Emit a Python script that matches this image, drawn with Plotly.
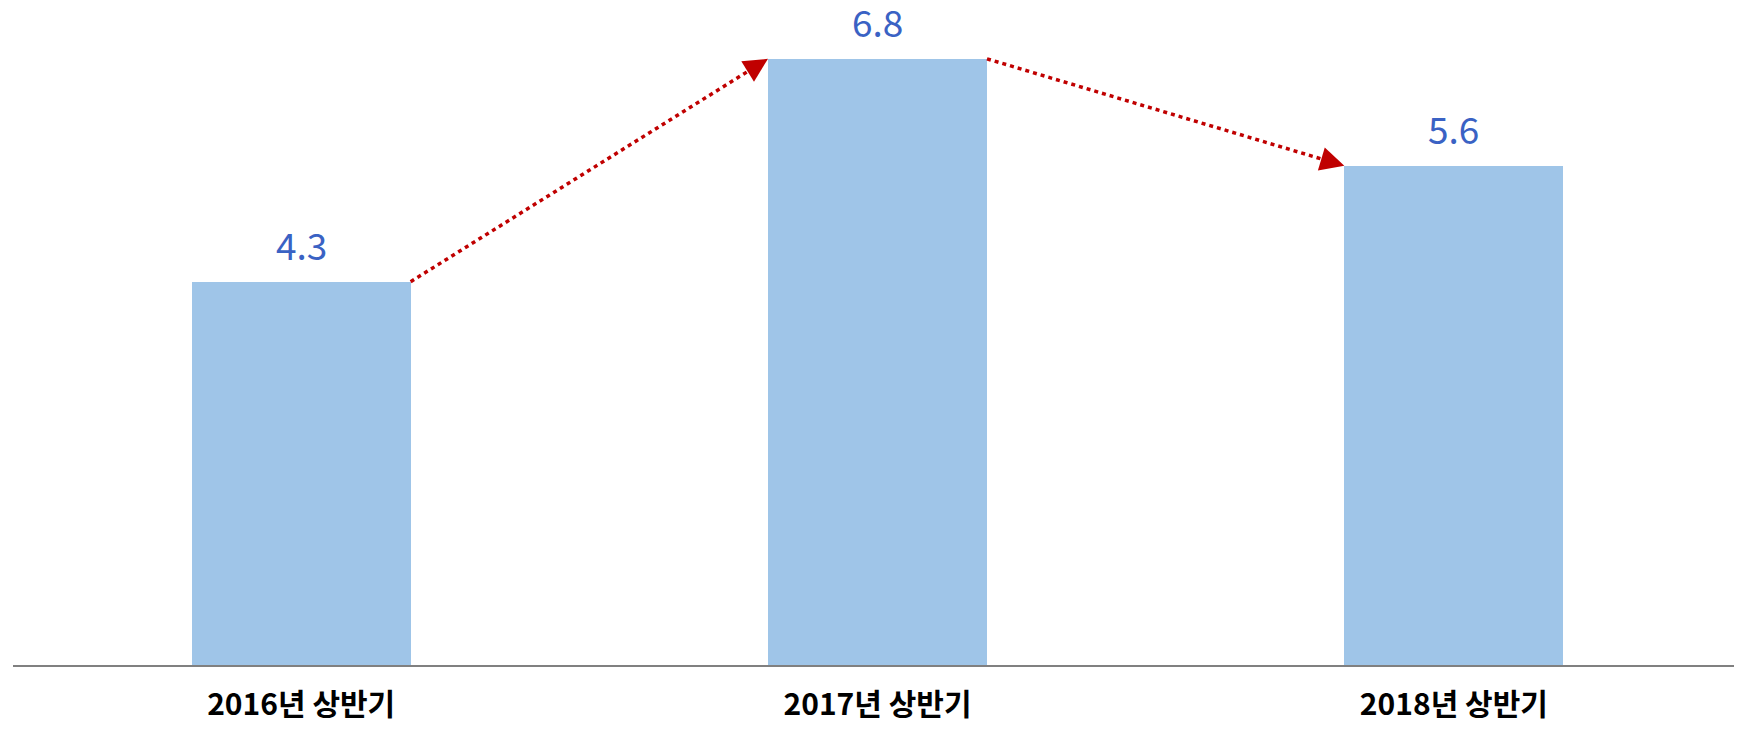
import plotly.graph_objects as go

categories = ["2016년 상반기", "2017년 상반기", "2018년 상반기"]
values = [4.3, 6.8, 5.6]
value_labels = ["4.3", "6.8", "5.6"]

BAR_W = 0.38
HALF = BAR_W / 2
FONT = "Noto Sans CJK KR, Noto Sans, sans-serif"
RED = "#c00000"

fig = go.Figure()
xs = list(range(len(categories)))
fig.add_trace(go.Bar(
    x=xs, y=values, width=BAR_W, marker=dict(color="#9fc5e8", line=dict(width=0)),
    cliponaxis=False, hoverinfo="skip",
))

for xi, v, lab in zip(xs, values, value_labels):
    fig.add_annotation(
        x=xi, y=v, xref="x", yref="y", text=lab, showarrow=False,
        yanchor="bottom", yshift=9,
        font=dict(family=FONT, size=37, color="#3a62c4"),
    )

for i in range(len(values) - 1):
    x0, y0 = xs[i] + HALF, values[i]
    x1, y1 = xs[i + 1] - HALF, values[i + 1]
    fig.add_trace(go.Scatter(
        x=[x0, x1 - (x1 - x0) * 0.03], y=[y0, y1 - (y1 - y0) * 0.03], mode="lines",
        line=dict(color=RED, width=3.5, dash="4px,4px"),
        hoverinfo="skip", showlegend=False, cliponaxis=False,
    ))
    fig.add_annotation(
        x=x1, y=y1, ax=x1 - (x1 - x0) * 0.05, ay=y1 - (y1 - y0) * 0.05,
        xref="x", yref="y", axref="x", ayref="y",
        text="", showarrow=True, arrowhead=2, arrowsize=1.6, arrowwidth=3,
        arrowcolor=RED, standoff=0,
    )

fig.update_layout(
    width=1734, height=713,
    margin=dict(l=5, r=0, t=0, b=56, autoexpand=False),
    plot_bgcolor="white", paper_bgcolor="white",
    showlegend=False, bargap=0,
    font=dict(family=FONT),
    xaxis=dict(
        tickmode="array", tickvals=xs, ticktext=categories,
        range=[-0.5, 2.5], showgrid=False, zeroline=False, automargin=False,
        showline=True, linecolor="#808080", linewidth=2,
        ticks="", tickfont=dict(family=FONT, size=30, color="#000000", weight="bold"),
        ticklabelstandoff=12,
    ),
    yaxis=dict(range=[0, 7.37], visible=False, automargin=False),
)

fig.write_html("out.html")
